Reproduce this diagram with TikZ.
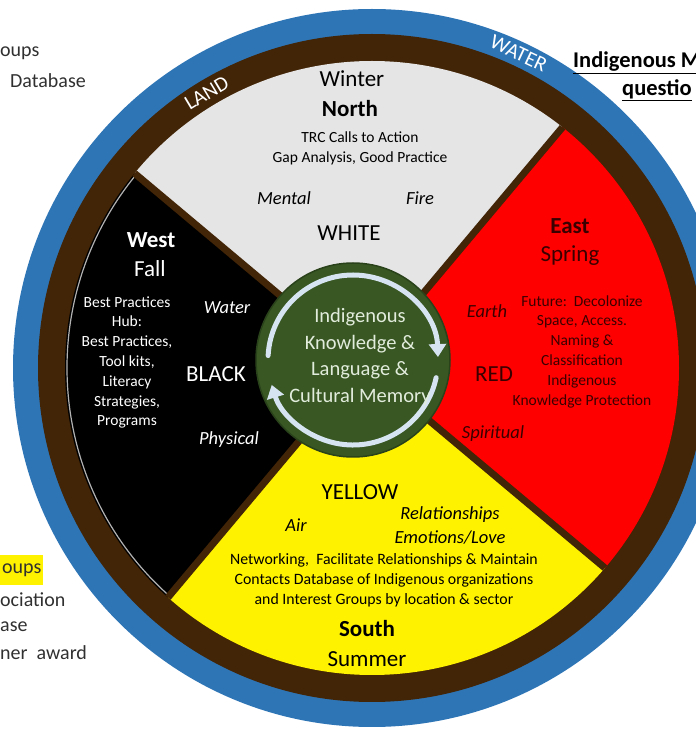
\documentclass[tikz,border=0pt]{standalone}
\usepackage{fontspec}
\setmainfont{Carlito}
\usetikzlibrary{arrows.meta}
\definecolor{ringblue}{RGB}{46,117,182}
\definecolor{landbrown}{RGB}{66,36,6}
\definecolor{northgray}{RGB}{229,229,229}
\definecolor{coregreen}{RGB}{56,87,35}
\definecolor{coredark}{RGB}{42,66,26}
\definecolor{coretext}{RGB}{226,236,220}
\definecolor{cyclecol}{RGB}{214,228,242}
\definecolor{eastink}{RGB}{58,0,0}
\definecolor{sidegray}{RGB}{48,48,48}
\begin{document}
\begin{tikzpicture}[x=1pt,y=1pt,>={Triangle[width=17pt,length=13pt]}, line join=round, line cap=round]
			\tikzset{big/.style={font=\fontsize{23}{27}\selectfont, inner sep=0},
				bigb/.style={font=\fontsize{23}{27}\selectfont\bfseries, inner sep=0},
				elem/.style={font=\fontsize{18.5}{22}\selectfont\itshape, inner sep=0},
				note/.style={font=\fontsize{15.5}{19.8}\selectfont, align=center, inner sep=0},
				core/.style={font=\fontsize{20.5}{26.7}\selectfont, align=center, inner sep=0, text=coretext},
				ringtext/.style={font=\fontsize{21}{22}\selectfont, text=white, inner sep=0},
				side/.style={font=\fontsize{20}{24}\selectfont, text=sidegray, anchor=west, inner sep=0},
				cyclearrow/.style={draw=cyclecol, line width=5pt}}
			\def \rblue{359}\def \rland{334}\def \rin{307}\def \rcore{97}
			\useasboundingbox (0,0) rectangle (696,732);
			\coordinate (c) at (372,364);
			\coordinate (w) at (363,367);
			\coordinate (g) at (353,372);
			\fill[ringblue] (c) circle (\rblue);
			\fill[landbrown] (c) circle (\rland);
			\begin{scope}
				\clip (c) circle (\rin);
				\fill[northgray] (w) -- ++(50:420) arc[start angle=50,end angle=140,radius=420] -- cycle;
				\fill[black] (w) -- ++(140:420) arc[start angle=140,end angle=230,radius=420] -- cycle;
				\fill[yellow] (w) -- ++(230:420) arc[start angle=230,end angle=320,radius=420] -- cycle;
				\fill[red] (w) -- ++(320:420) arc[start angle=320,end angle=410,radius=420] -- cycle;
				\draw[gray!60,line width=1.2pt] (c) ++(141:305) arc[start angle=141,end angle=229,radius=305];
				\foreach \a in {50,140,230,320}
				\draw[landbrown,line width=7pt] (w) -- ++(\a:420);
			\end{scope}
			\fill[coregreen] (g) circle (\rcore);
			\draw[coredark,line width=1.5pt] (g) circle (\rcore);
			\draw[cyclearrow,->] (g) ++(177:85) arc[start angle=177,end angle=2,radius=85];
			\draw[cyclearrow,->] (g) ++(-12:85) arc[start angle=-12,end angle=-163,radius=85];
			\path (c) ++(121:321) node[ringtext,rotate=31] (land) {LAND};
			\path (c) ++(65:347) node[ringtext,rotate=-25] (water) {WATER};
			% north
			\node[big] (winter) at (352,653) {Winter};
			\node[bigb] (north) at (350,623) {North};
			\node[note] (trc) at (360,583.5) {TRC Calls to Action\\Gap Analysis, Good Practice};
			\node[elem] (mental) at (284,534) {Mental};
			\node[elem] (fire) at (420,534) {Fire};
			\node[big] (white) at (349,499) {WHITE};
			% west
			\node[bigb,text=white] (west) at (151,492) {West};
			\node[big,text=white] (fall) at (150,463) {Fall};
			\node[note,text=white] (hub) at (127,369.5) {Best Practices\\Hub:\\Best Practices,\\Tool kits,\\Literacy\\Strategies,\\Programs};
			\node[elem,text=white] (water2) at (227,424) {Water};
			\node[big,text=white] (blackname) at (216,358) {BLACK};
			\node[elem,text=white] (physical) at (229,292) {Physical};
			% east
			\node[bigb,text=eastink] (east) at (570,506) {East};
			\node[big,text=eastink] (spring) at (570,476) {Spring};
			\node[elem,text=eastink] (earth) at (487,421) {Earth};
			\node[note,text=eastink] (future) at (582,380.5) {Future:\ \ Decolonize\\Space, Access.\\Naming \&\\Classification\\Indigenous\\Knowledge Protection};
			\node[big,text=eastink] (redname) at (494,358) {RED};
			\node[elem,text=eastink] (spiritual) at (493,298) {Spiritual};
			% south
			\node[big] (yellowname) at (360,240) {YELLOW};
			\node[elem,align=center,font=\fontsize{18.5}{24}\selectfont\itshape] (relations) at (450,207) {Relationships\\Emotions/Love};
			\node[elem] (air) at (296,207) {Air};
			\node[note,font=\fontsize{15.8}{19.8}\selectfont] (network) at (384,152) {Networking,\ \ Facilitate Relationships \& Maintain\\Contacts Database of Indigenous organizations\\and Interest Groups by location \& sector};
			\node[bigb] (south) at (367,103) {South};
			\node[big] (summer) at (367,73) {Summer};
			% core
			\node[core] (memory) at (360,375) {Indigenous\\Knowledge \&\\Language \&\\Cultural Memory};
			% margins
			\node[side] (groupsa) at (0,679) {oups};
			\node[side] (database) at (10,651) {Database};
			\node[side,fill=yellow,inner sep=2pt,inner xsep=0pt,minimum height=30pt,minimum width=43pt] (groupsb) at (0,162) {oups};
			\node[side] (association) at (0,132) {ociation};
			\node[side] (dbase) at (0,105) {ase};
			\node[side] (award) at (0,79) {ner\ \ award};
			\node[side,text=black,font=\fontsize{22.5}{26}\selectfont\bfseries] (indig) at (573,669) {\underline{Indigenous M}};
			\node[side,text=black,font=\fontsize{22.5}{26}\selectfont\bfseries] (quest) at (622,642) {\underline{questio}};
	\end{tikzpicture}
\end{document}
